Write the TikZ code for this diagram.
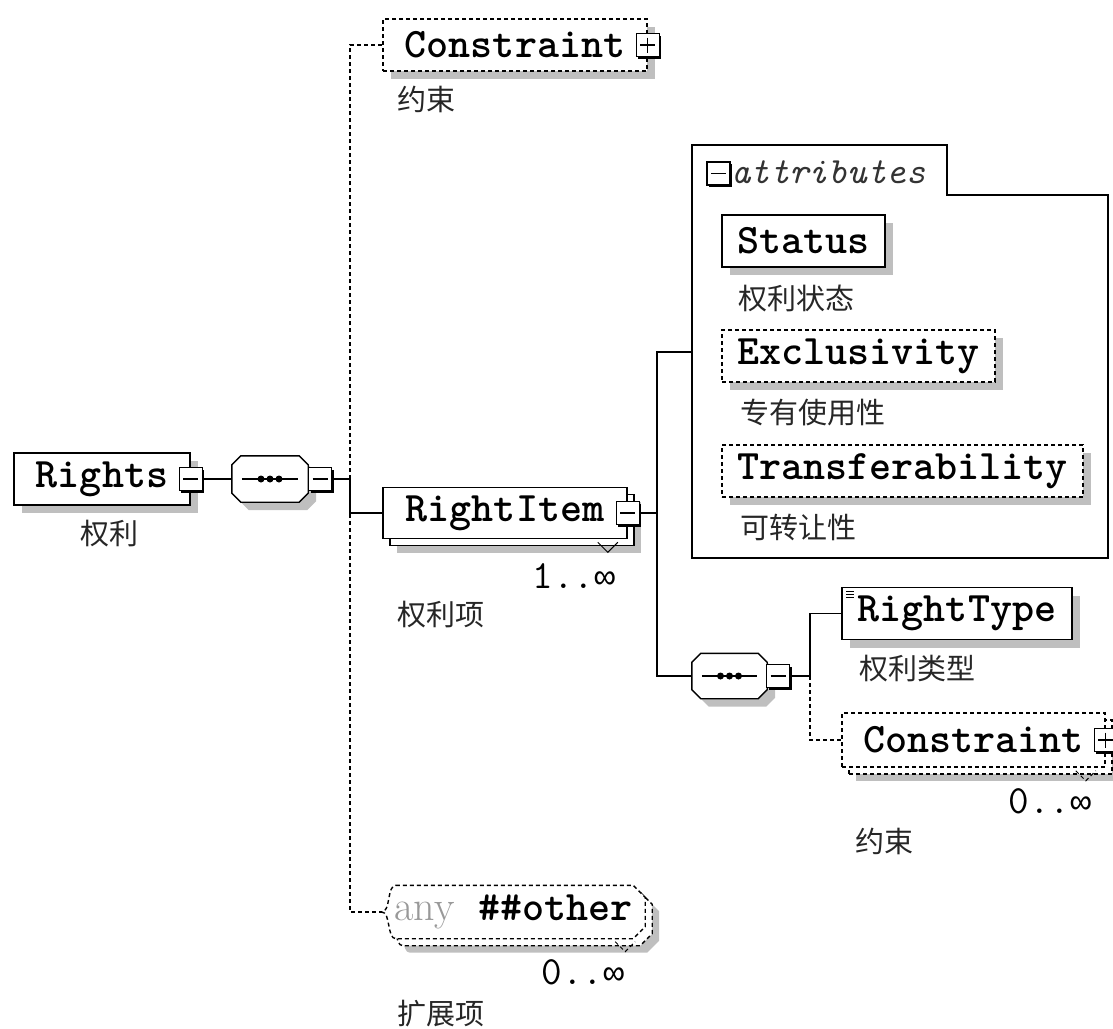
\documentclass[tikz,border=0pt]{standalone}
\usepackage{fontspec}
\newfontfamily\cjk{Noto Sans CJK SC}
\newfontfamily\occmono{Liberation Mono}
\usetikzlibrary{shadows}

\newcommand\elemfont{\ttfamily\bfseries\fontsize{42}{44}\selectfont}
\newcommand\lblfont{\cjk\fontsize{29}{32}\selectfont}
\newcommand\occfont{\ttfamily\fontsize{40}{42}\selectfont}
\newcommand\upto{{\occmono\fontsize{35}{38}\selectfont ∞}}

% octagon of a sequence compositor, and the outline of a wildcard
\newcommand\octpath[2]{([xshift=#2]#1.north west) -- ([xshift=-#2]#1.north east) -- ([yshift=-#2]#1.north east)
  -- ([yshift=#2]#1.south east) -- ([xshift=-#2]#1.south east) -- ([xshift=#2]#1.south west)
  -- ([yshift=#2]#1.south west) -- ([yshift=-#2]#1.north west) -- cycle}
\newcommand\anypath[1]{([xshift=14pt]#1.north west) -- ([xshift=-12pt]#1.north east) -- ([yshift=-12pt]#1.north east)
  -- ([yshift=12pt]#1.south east) -- ([xshift=-12pt]#1.south east) -- ([xshift=14pt]#1.south west)
  .. controls ([xshift=5pt]#1.south west) and ([xshift=9pt]#1.west) .. (#1.west)
  .. controls ([xshift=9pt]#1.west) and ([xshift=5pt]#1.north west) .. ([xshift=14pt]#1.north west) -- cycle}
\newcommand\seqdraw[1]{%
  \fill[black!25, transform canvas={shift={(8,8)}}] \octpath{#1}{9pt};
  \draw[line width=1.4pt, fill=white] \octpath{#1}{9pt};
  \draw[line width=1.4pt] ([xshift=10pt]#1.west) -- ([xshift=-10pt]#1.east);
  \fill (#1.center) circle (3.5pt) ++(-9pt,0) circle (3.5pt) ++(18pt,0) circle (3.5pt);}

\tikzset{
  conn/.style={line width=1.6pt},
  opt/.style={dash pattern=on 4pt off 3pt},
  box/.style={draw, fill=white, line width=1.6pt, minimum height=52pt, inner sep=0pt, font=\elemfont},
  elem/.style={box, general shadow={fill=black!25, draw=none, shadow xshift=8pt, shadow yshift=-8pt}},
  optelem/.style={elem, opt},
  multielem/.style={box,
    general shadow={fill=black!25, draw=none, shadow xshift=14pt, shadow yshift=-14pt},
    general shadow={fill=white, draw=black, shadow xshift=7pt, shadow yshift=-7pt, #1}, #1},
  multielem/.default={},
  expbox/.style={draw, fill=white, line width=1.5pt, minimum size=23pt, inner sep=0pt,
    general shadow={fill=black, draw=none, shadow xshift=2pt, shadow yshift=-2pt}},
  minus/.style={expbox, path picture={
    \draw[line width=1.3pt] ([xshift=4pt]path picture bounding box.west) -- ([xshift=-4pt]path picture bounding box.east);}},
  plus/.style={expbox, path picture={
    \draw[line width=1.3pt] ([xshift=4pt]path picture bounding box.west) -- ([xshift=-4pt]path picture bounding box.east);
    \draw[line width=1.3pt] ([yshift=-4pt]path picture bounding box.north) -- ([yshift=4pt]path picture bounding box.south);}},
  seqbox/.style={inner sep=0pt, minimum width=76pt, minimum height=46pt},
  lbl/.style={font=\lblfont, text=black!85, inner sep=0pt},
  occ/.style={font=\occfont, inner sep=0pt},
  chev/.style={line width=1pt}
}

\begin{document}
\begin{tikzpicture}[x=1pt,y=-1pt,line join=miter]
  \useasboundingbox (0,0) rectangle (1113,1028);
  \clip (0,0) rectangle (1113,1028);

  % root and first sequence
  \node[elem, minimum width=176pt] (rights) at (102,479) {Rights};
  \node[minus] (rightsX) at (rights.east) {};
  \node[lbl] (rightsL) at (109,534) {权利};
  \node[seqbox] (seqA) at (270,479) {};
  \seqdraw{seqA}
  \node[minus] (seqAX) at ([xshift=12pt]seqA.east) {};
  \coordinate (trunk) at (350,479);

  % children of Rights
  \node[optelem, minimum width=264pt] (conA) at (515,45) {Constraint};
  \node[plus] (conAX) at (conA.east) {};
  \node[lbl] (conAL) at (426,99) {约束};

  \node[multielem, minimum width=244pt, minimum height=51pt] (item) at (505,513) {RightItem};
  \node[minus] (itemX) at (item.east) {};
  \draw[chev] ([xshift=-30pt]item.south east) ++(0,3) -- ++(10,10) -- ++(10,-10);
  \node[occ] (itemO) at (574,576) {1..\upto};
  \node[lbl] (itemL) at (441,615) {权利项};

  \node[seqbox, minimum width=263pt, minimum height=53pt] (any) at (513.5,912) {};
  \fill[black!25, transform canvas={shift={(14,14)}}] \anypath{any};
  \draw[line width=1.4pt, fill=white, opt, transform canvas={shift={(7,7)}}] \anypath{any};
  \draw[line width=1.4pt, fill=white, opt] \anypath{any};
  \draw[chev, opt] ([xshift=-30pt]any.south east) ++(0,3) -- ++(10,10) -- ++(10,-10);
  \node[font=\elemfont] (anyT) at (any) {{\rmfamily\mdseries\color{black!40}any}\hspace{24pt}\#\#other};
  \node[occ] (anyO) at (583,972) {0..\upto};
  \node[lbl] (anyL) at (441,1014) {扩展项};

  % attributes of RightItem
  \draw[line width=1.6pt] (692,145) -- (947,145) -- (947,195) -- (1108,195) -- (1108,558) -- (692,558) -- cycle;
  \node[minus] (attrX) at (718.5,173.5) {};
  \node[anchor=west, inner sep=0pt, text=black!80, font=\ttfamily\itshape\fontsize{37}{40}\selectfont] (attrT) at (731,172) {attributes};
  \coordinate (attrW) at (692,352);

  \node[elem, minimum width=163pt] (status) at (803.5,241) {Status};
  \node[lbl] (statusL) at (796,298) {权利状态};
  \node[optelem, minimum width=273pt] (excl) at (858.5,356) {Exclusivity};
  \node[lbl] (exclL) at (813,413) {专有使用性};
  \node[optelem, minimum width=361pt] (trans) at (902.5,471) {Transferability};
  \node[lbl] (transL) at (798,527) {可转让性};

  % content of RightItem
  \coordinate (fork) at (657,513);
  \node[seqbox, minimum width=75pt, minimum height=45pt] (seqB) at (729.5,676) {};
  \seqdraw{seqB}
  \node[minus] (seqBX) at ([xshift=11pt]seqB.east) {};
  \coordinate (forkB) at (810,676);

  \node[elem, minimum width=230pt, path picture={
      \foreach \k in {0,3,6} \draw[line width=0.8pt] ([xshift=4pt,yshift=-4pt-\k pt]path picture bounding box.north west) -- ++(8pt,0);}]
        (rtype) at (957,613.5) {RightType};
  \node[lbl] (rtypeL) at (917,669) {权利类型};
  \node[multielem=opt, minimum width=263pt, minimum height=54pt] (conB) at (973.5,740) {Constraint};
  \node[plus] (conBX) at (conB.east) {};
  \draw[chev, opt] ([xshift=-30pt]conB.south east) ++(0,3) -- ++(10,10) -- ++(10,-10);
  \node[occ] (conBO) at (1050,801) {0..\upto};
  \node[lbl] (conBL) at (884,841) {约束};

  % connectors
  \draw[conn] (rightsX) -- (seqA);
  \draw[conn] (seqAX) -- (trunk);
  \draw[conn, opt] (trunk) |- (conA);
  \draw[conn, opt] (trunk) |- (any);
  \draw[conn] (trunk) |- (item);
  \draw[conn] (itemX) -- (fork);
  \draw[conn] (fork) |- (attrW);
  \draw[conn] (fork) |- (seqB);
  \draw[conn] (seqBX) -- (forkB);
  \draw[conn] (forkB) |- (rtype);
  \draw[conn, opt] (forkB) |- (conB);
\end{tikzpicture}
\end{document}
